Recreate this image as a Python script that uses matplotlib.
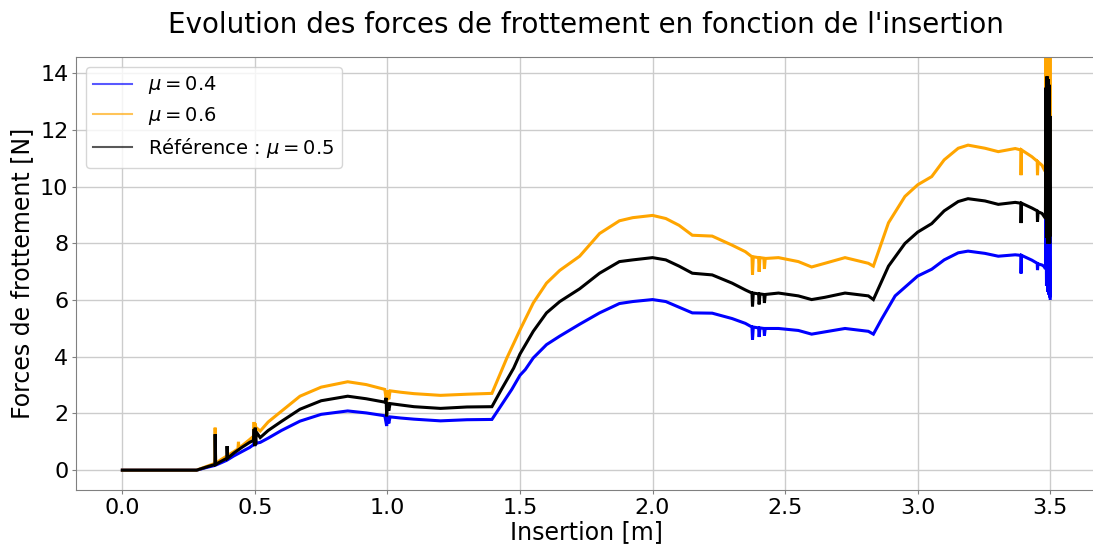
import matplotlib
matplotlib.use("Agg")
import matplotlib.pyplot as plt

# Friction force vs. insertion depth for three friction coefficients
x_mu04 = [0.0, 0.20, 0.28, 0.32, 0.35, 0.37, 0.394, 0.42, 0.45, 0.48, 0.495, 0.498, 0.500, 0.502,
          0.505, 0.52, 0.55, 0.60, 0.67, 0.75, 0.85, 0.92, 0.99, 0.997, 1.0, 1.005, 1.01, 1.05,
          1.10, 1.20, 1.30, 1.394, 1.469, 1.50, 1.52, 1.55, 1.60, 1.65, 1.725, 1.80, 1.875, 1.925,
          2.0, 2.05, 2.10, 2.15, 2.225, 2.30, 2.35, 2.375, 2.377, 2.38, 2.40, 2.402, 2.405, 2.42,
          2.422, 2.425, 2.475, 2.55, 2.60, 2.65, 2.726, 2.814, 2.833, 2.864, 2.915, 3.0, 3.053,
          3.10, 3.153, 3.19, 3.254, 3.304, 3.368, 3.389, 3.390, 3.392, 3.431, 3.451, 3.452, 3.454,
          3.469, 3.478, 3.482, 3.484, 3.486, 3.488, 3.490, 3.492, 3.494, 3.496, 3.498, 3.499, 3.500]
f_mu04 = [0.0, 0.0, 0.0, 0.10, 0.17, 0.25, 0.35, 0.50, 0.65, 0.80, 0.90, 1.10, 0.85, 1.10,
          0.95, 0.98, 1.13, 1.40, 1.73, 1.97, 2.09, 2.02, 1.92, 1.56, 1.91, 1.65, 1.88, 1.84,
          1.80, 1.74, 1.78, 1.79, 2.85, 3.35, 3.55, 3.96, 4.43, 4.73, 5.15, 5.55, 5.88, 5.95,
          6.02, 5.95, 5.75, 5.55, 5.54, 5.35, 5.18, 5.05, 4.60, 5.05, 5.02, 4.70, 5.02, 5.00,
          4.75, 5.00, 5.00, 4.93, 4.80, 4.88, 5.00, 4.90, 4.80, 5.33, 6.15, 6.85, 7.09,
          7.42, 7.67, 7.73, 7.65, 7.55, 7.60, 7.58, 6.94, 7.58, 7.41, 7.30, 7.06, 7.28,
          7.24, 7.18, 7.10, 9.50, 6.50, 10.0, 6.30, 10.0, 6.20, 10.0, 6.10, 9.00, 6.06]

x_mu06 = [0.0, 0.20, 0.28, 0.32, 0.349, 0.350, 0.352, 0.37, 0.394, 0.42, 0.436, 0.438, 0.440,
          0.45, 0.48, 0.495, 0.497, 0.499, 0.501, 0.503, 0.505, 0.52, 0.55, 0.60, 0.67, 0.75,
          0.85, 0.92, 0.99, 0.997, 1.0, 1.005, 1.01, 1.05, 1.10, 1.20, 1.30, 1.394, 1.432, 1.45,
          1.50, 1.55, 1.60, 1.65, 1.725, 1.80, 1.875, 1.925, 2.0, 2.05, 2.10, 2.15, 2.225, 2.30,
          2.35, 2.375, 2.377, 2.38, 2.40, 2.402, 2.405, 2.42, 2.422, 2.425, 2.475, 2.55, 2.60,
          2.65, 2.726, 2.814, 2.833, 2.89, 2.952, 3.0, 3.053, 3.10, 3.153, 3.19, 3.254, 3.304,
          3.368, 3.389, 3.390, 3.392, 3.431, 3.451, 3.452, 3.454, 3.469, 3.478, 3.482, 3.484,
          3.486, 3.488, 3.490, 3.492, 3.494, 3.496, 3.498, 3.499, 3.500]
f_mu06 = [0.0, 0.0, 0.0, 0.14, 0.24, 1.50, 0.24, 0.36, 0.50, 0.65, 0.75, 1.00, 0.76,
          0.85, 1.08, 1.20, 1.70, 1.10, 1.65, 1.15, 1.50, 1.38, 1.70, 2.08, 2.61, 2.93,
          3.12, 3.02, 2.85, 2.38, 2.82, 2.50, 2.80, 2.75, 2.70, 2.64, 2.68, 2.71, 3.55, 3.95,
          4.95, 5.90, 6.60, 7.05, 7.55, 8.35, 8.80, 8.91, 8.99, 8.88, 8.64, 8.29, 8.26, 7.94,
          7.71, 7.53, 6.90, 7.53, 7.50, 7.00, 7.50, 7.48, 7.10, 7.47, 7.50, 7.36, 7.17,
          7.30, 7.50, 7.30, 7.20, 8.73, 9.66, 10.07, 10.36, 10.95, 11.36, 11.47, 11.36, 11.24,
          11.35, 11.30, 10.41, 11.30, 11.06, 10.90, 10.41, 10.88, 10.76, 10.59, 10.60, 15.5,
          10.50, 16.0, 10.60, 16.0, 10.80, 16.0, 10.70, 15.0, 10.80]

x_ref = [0.0, 0.20, 0.28, 0.32, 0.349, 0.350, 0.352, 0.37, 0.394, 0.395, 0.397, 0.42, 0.45,
         0.48, 0.495, 0.497, 0.499, 0.501, 0.503, 0.505, 0.52, 0.55, 0.60, 0.67, 0.75, 0.85,
         0.92, 0.99, 0.995, 0.997, 1.0, 1.005, 1.01, 1.05, 1.10, 1.20, 1.30, 1.394, 1.43, 1.476,
         1.50, 1.55, 1.60, 1.65, 1.725, 1.80, 1.875, 1.925, 2.0, 2.05, 2.10, 2.15, 2.225, 2.30,
         2.35, 2.375, 2.377, 2.38, 2.40, 2.402, 2.405, 2.42, 2.422, 2.425, 2.475, 2.55, 2.60,
         2.65, 2.726, 2.814, 2.833, 2.89, 2.952, 3.0, 3.053, 3.10, 3.153, 3.19, 3.254, 3.304,
         3.368, 3.389, 3.390, 3.392, 3.431, 3.451, 3.452, 3.454, 3.469, 3.478, 3.482, 3.484,
         3.486, 3.488, 3.490, 3.492, 3.494, 3.496, 3.498, 3.499, 3.500]
f_ref = [0.0, 0.0, 0.0, 0.12, 0.20, 1.27, 0.20, 0.30, 0.42, 0.85, 0.42, 0.60, 0.80,
         0.98, 1.05, 1.45, 0.85, 1.50, 0.90, 1.35, 1.15, 1.40, 1.72, 2.15, 2.45, 2.61,
         2.52, 2.40, 2.55, 1.90, 2.38, 2.10, 2.35, 2.30, 2.24, 2.18, 2.23, 2.24, 2.85, 3.60,
         4.10, 4.90, 5.55, 5.95, 6.40, 6.95, 7.36, 7.42, 7.50, 7.42, 7.20, 6.95, 6.89, 6.60,
         6.36, 6.25, 5.78, 6.25, 6.22, 5.85, 6.22, 6.20, 5.90, 6.20, 6.25, 6.15, 6.02,
         6.10, 6.25, 6.15, 6.02, 7.20, 8.00, 8.40, 8.70, 9.15, 9.48, 9.58, 9.50, 9.38,
         9.45, 9.42, 8.72, 9.42, 9.25, 9.15, 8.76, 9.12, 9.06, 8.94, 9.00, 13.5,
         8.20, 13.9, 8.00, 13.8, 8.10, 13.6, 8.00, 12.5, 8.30]

series_labels = [r"$\mu = 0.4$", r"$\mu = 0.6$", r"Référence : $\mu = 0.5$"]
series_colors = ["blue", "orange", "black"]

fig = plt.figure(figsize=(10.93, 5.47), dpi=100)
ax = fig.add_axes([0.0695, 0.1042, 0.9338, 0.7916])

for xs, ys, lab, col in zip([x_mu04, x_mu06, x_ref], [f_mu04, f_mu06, f_ref],
                            series_labels, series_colors):
    ax.plot(xs, ys, color=col, linewidth=2.2, label=lab, solid_joinstyle="miter")

ax.set_xlim(-0.175, 3.675)
ax.set_ylim(-0.70, 14.58)
ax.set_xticks([0.0, 0.5, 1.0, 1.5, 2.0, 2.5, 3.0, 3.5])
ax.set_yticks([0, 2, 4, 6, 8, 10, 12, 14])
ax.grid(True, color="#cccccc", linewidth=1.0)
ax.set_axisbelow(True)
for sp in ax.spines.values():
    sp.set_color("#808080")
ax.tick_params(axis="both", labelsize=16, color="#808080", length=3, pad=2.5)

ax.set_xlabel("Insertion [m]", fontsize=17, labelpad=2)
ax.set_ylabel("Forces de frottement [N]", fontsize=17, labelpad=4)
ax.set_title("Evolution des forces de frottement en fonction de l'insertion",
             fontsize=20, pad=17)

leg = ax.legend(loc="upper left", fontsize=14, labelspacing=0.45)
for ln in leg.get_lines():
    ln.set_alpha(0.65)
    ln.set_linewidth(1.5)

fig.savefig("out.png", dpi=100)
